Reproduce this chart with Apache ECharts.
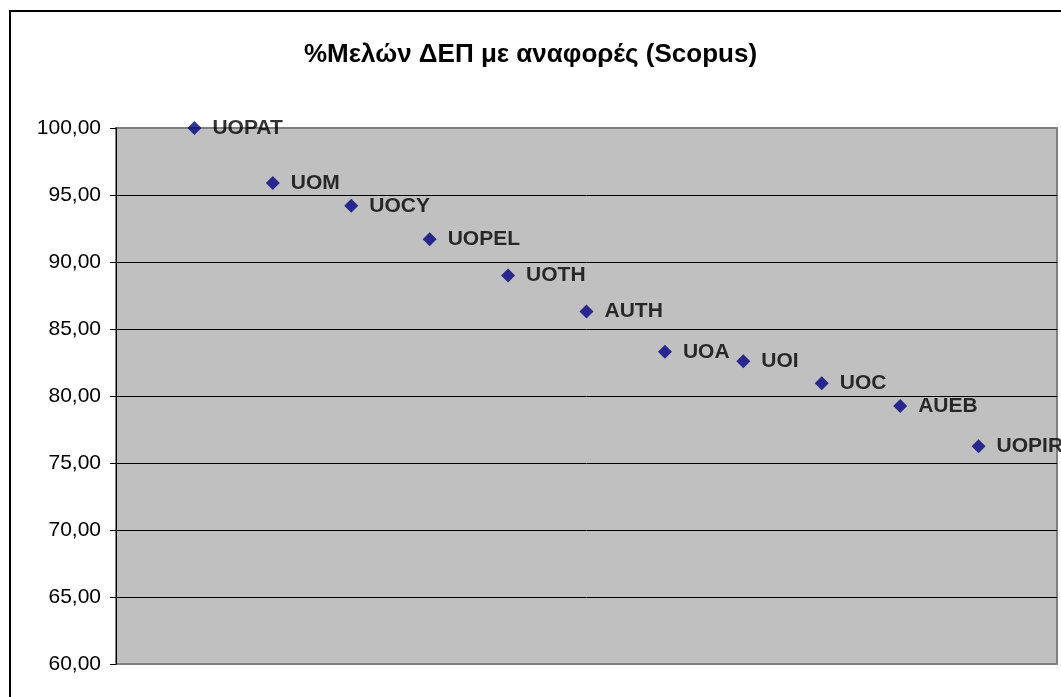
<!DOCTYPE html>
<html lang="el">
<head>
    <meta charset="UTF-8">
    <script src="https://cdnjs.cloudflare.com/ajax/libs/echarts/6.0.0/echarts.min.js"></script>
    <title>Scopus</title>
    <style>
        html, body { margin: 0; padding: 0; background: #fff; }
    </style>
</head>
<body>

<div id="chart" style="width: 1061px;height: 697px"></div>

<script type="text/javascript">
    // universities, left to right
    var names = ['UOPAT', 'UOM', 'UOCY', 'UOPEL', 'UOTH', 'AUTH', 'UOA', 'UOI', 'UOC', 'AUEB', 'UOPIR']
    // % of faculty members with citations
    var values = [100.00, 95.90, 94.20, 91.70, 89.00, 86.30, 83.30, 82.60, 80.95, 79.25, 76.25]
    // inner gridlines
    var gridValues = [65, 70, 75, 80, 85, 90, 95]

    var seriesData = []
    for (var i = 0; i < names.length; i++) {
        seriesData.push({ name: names[i], value: [i + 1, values[i]] })
    }

    var font = 'Arial, "Liberation Sans", sans-serif'

    var myChart = echarts.init(document.getElementById('chart'));
    var option = {
        animation: false,
        backgroundColor: '#fff',
        title: {
            text: '%Μελών ΔΕΠ με αναφορές (Scopus)',
            left: 'center',
            top: 37,
            textStyle: { fontFamily: font, fontSize: 26, fontWeight: 'bold', color: '#000' }
        },
        graphic: [{
            type: 'rect',
            shape: { x: 10, y: 11, width: 1100, height: 800 },
            style: { fill: null, stroke: '#000', lineWidth: 2 },
            silent: true
        }],
        grid: {
            left: 116, top: 128, right: 4, bottom: 33,
            show: true,
            backgroundColor: '#C0C0C0',
            borderColor: '#808080',
            borderWidth: 2
        },
        xAxis: {
            type: 'value',
            min: 0,
            max: 12,
            show: false
        },
        yAxis: {
            type: 'value',
            min: 60,
            max: 100,
            interval: 5,
            axisLine: { show: true, lineStyle: { color: '#000', width: 1 } },
            axisTick: { show: true, inside: false, length: 6, lineStyle: { color: '#000' } },
            splitLine: { show: false },
            axisLabel: {
                fontFamily: font,
                fontSize: 21,
                color: '#000',
                margin: 15,
                formatter: function (v) { return v.toFixed(2).replace('.', ',') }
            }
        },
        series: [{
            type: 'scatter',
            symbol: 'diamond',
            symbolSize: 14,
            itemStyle: { color: '#000080' },
            data: seriesData,
            label: {
                show: true,
                position: 'right',
                distance: 11,
                formatter: '{b}',
                fontFamily: font,
                fontSize: 21,
                fontWeight: 'bold',
                color: '#000'
            },
            markLine: {
                silent: true,
                symbol: 'none',
                label: { show: false },
                lineStyle: { color: '#000', type: 'solid', width: 1 },
                data: gridValues.map(function (v) { return { yAxis: v } })
            },
            z: 5
        }]
    };
    myChart.setOption(option);
</script>
</body>
</html>
